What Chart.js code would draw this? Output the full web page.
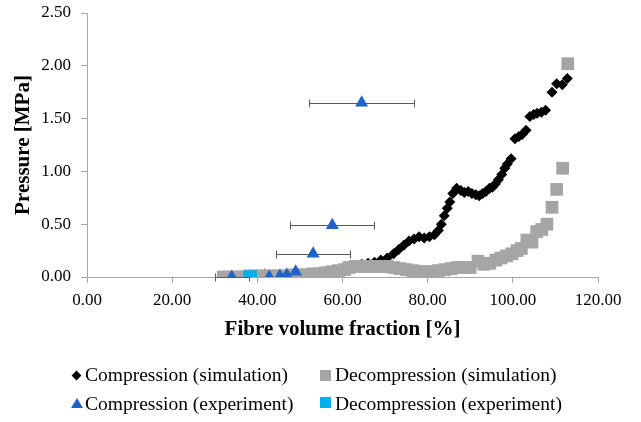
<!DOCTYPE html>
<html>
<head>
<meta charset="utf-8">
<script src="https://cdn.jsdelivr.net/npm/chart.js@4"></script>
<style>
  body { margin: 0; background: #fff; }
  #wrap { position: relative; width: 641px; height: 422px; }
  .lg { position: absolute; font-family: "Liberation Serif", serif; font-size: 19.5px; line-height: 24px; color: #000; white-space: nowrap; }
  .mk { position: absolute; }
</style>
</head>
<body>
<div id="wrap">
  <canvas id="chart" width="641" height="422"></canvas>
  <div class="mk" style="left:73px;top:372px;width:7px;height:7px;background:#000;transform:rotate(45deg);"></div>
  <div class="lg" style="left:85px;top:363px;">Compression (simulation)</div>
  <div class="mk" style="left:320px;top:370px;width:11px;height:11px;background:#a5a5a5;"></div>
  <div class="lg" style="left:335px;top:363px;">Decompression (simulation)</div>
  <div class="mk" style="left:71px;top:398px;width:0;height:0;border-left:6px solid transparent;border-right:6px solid transparent;border-bottom:10px solid #1f62c8;"></div>
  <div class="lg" style="left:85px;top:392px;">Compression (experiment)</div>
  <div class="mk" style="left:320px;top:397px;width:11px;height:11px;background:#00b0f0;"></div>
  <div class="lg" style="left:335px;top:392px;">Decompression (experiment)</div>
</div>
<script>
// Compression (simulation)
var compSimX = [50, 52, 54, 56, 58, 60, 61.5, 63, 64.5, 66, 67.5, 69, 70.5, 72, 73.2, 74.4, 75.6, 76.8, 78, 79.2, 80.4, 81.6, 82.5, 83.2, 83.9, 84.6, 85.2, 85.9, 86.8, 87.8, 88.6, 89.5, 90.4, 91.3, 92.1, 92.9, 93.7, 94.5, 95.2, 95.9, 96.6, 97.4, 98.1, 98.7, 99.6, 100.5, 101.4, 102.2, 103.1, 104.0, 104.9, 105.7, 106.7, 107.7, 109.2, 110.3, 111.6, 112.8];
var compSimY = [0.00, 0.00, 0.01, 0.01, 0.02, 0.04, 0.07, 0.10, 0.12, 0.13, 0.14, 0.16, 0.18, 0.22, 0.26, 0.30, 0.34, 0.36, 0.38, 0.37, 0.38, 0.40, 0.44, 0.50, 0.58, 0.65, 0.71, 0.79, 0.84, 0.82, 0.80, 0.81, 0.79, 0.78, 0.77, 0.79, 0.81, 0.84, 0.85, 0.88, 0.92, 0.97, 1.03, 1.07, 1.12, 1.31, 1.33, 1.35, 1.39, 1.52, 1.54, 1.55, 1.56, 1.58, 1.75, 1.83, 1.82, 1.88];

// Decompression (simulation)
var decompSimX = [32, 33.5, 35, 36.5, 38, 39.5, 41, 42.5, 44, 45.5, 47, 48.5, 50, 51.5, 53, 54.5, 56, 57.5, 59, 60.5, 61.5, 63, 64.5, 66, 67.5, 69, 70.5, 72, 73.5, 75, 76.5, 78, 79.5, 81, 82.5, 84, 85.5, 87, 88.5, 90, 91.8, 93.2, 94.6, 96, 97.2, 98.5, 99.8, 101, 102, 103.3, 104.5, 105.6, 106.8, 108, 109.2, 110.3, 111.7, 112.9];
var decompSimY = [0.00, 0.00, 0.00, 0.00, 0.01, 0.01, 0.01, 0.01, 0.01, 0.01, 0.01, 0.02, 0.02, 0.02, 0.03, 0.03, 0.04, 0.05, 0.06, 0.07, 0.09, 0.10, 0.10, 0.10, 0.10, 0.10, 0.10, 0.09, 0.08, 0.07, 0.06, 0.05, 0.05, 0.05, 0.06, 0.07, 0.08, 0.09, 0.09, 0.09, 0.15, 0.12, 0.13, 0.16, 0.18, 0.20, 0.22, 0.25, 0.27, 0.35, 0.33, 0.43, 0.45, 0.50, 0.66, 0.83, 1.03, 2.02];

// Compression (experiment) with horizontal error (+/-)
var compExpX = [34.0, 42.8, 45.3, 46.9, 49.0, 53.1, 57.6, 64.5];
var compExpY = [0.00, 0.00, 0.01, 0.02, 0.05, 0.22, 0.49, 1.65];
var compExpErr = [4.0, 0, 0, 0, 7.4, 8.7, 9.85, 12.3];

// Decompression (experiment)
var decompExpX = [38.3];
var decompExpY = [0.00];

var xTicks = [0, 20, 40, 60, 80, 100, 120];
var yTicks = [0, 0.5, 1, 1.5, 2, 2.5];

function pts(xs, ys) {
  return xs.map(function(x, i) { return {x: x, y: ys[i]}; });
}

var errorBars = {
  id: 'errorBars',
  beforeDatasetsDraw: function(chart) {
    var ctx = chart.ctx;
    var xs = chart.scales.x, ys = chart.scales.y;
    ctx.save();
    ctx.strokeStyle = '#595959';
    ctx.lineWidth = 1;
    compExpX.forEach(function(x, i) {
      var e = compExpErr[i];
      if (!e) return;
      var py = Math.round(ys.getPixelForValue(compExpY[i])) + 0.5;
      var x1 = Math.round(xs.getPixelForValue(x - e)) + 0.5;
      var x2 = Math.round(xs.getPixelForValue(x + e)) + 0.5;
      ctx.beginPath();
      ctx.moveTo(x1, py); ctx.lineTo(x2, py);
      ctx.moveTo(x1, py - 4); ctx.lineTo(x1, py + 4);
      ctx.moveTo(x2, py - 4); ctx.lineTo(x2, py + 4);
      ctx.stroke();
    });
    ctx.restore();
  }
};

var axisColor = '#a6a6a6';
var tickFont = {family: 'Liberation Serif', size: 17};
var titleFont = {family: 'Liberation Serif', size: 21, weight: 'bold'};

new Chart(document.getElementById('chart'), {
  type: 'scatter',
  data: {
    datasets: [
      {label: 'Compression (experiment)', data: pts(compExpX, compExpY), order: 0,
       pointStyle: 'triangle', pointRadius: 7.5, backgroundColor: '#1f62c8', borderColor: '#1f62c8', borderWidth: 0},
      {label: 'Decompression (experiment)', data: pts(decompExpX, decompExpY), order: 1,
       pointStyle: 'rect', pointRadius: 9.5, backgroundColor: '#00b0f0', borderColor: '#00b0f0', borderWidth: 0},
      {label: 'Decompression (simulation)', data: pts(decompSimX, decompSimY), order: 2,
       pointStyle: 'rect', pointRadius: 9, backgroundColor: '#a5a5a5', borderColor: '#a5a5a5', borderWidth: 0},
      {label: 'Compression (simulation)', data: pts(compSimX, compSimY), order: 3,
       pointStyle: 'rectRot', pointRadius: 5.5, backgroundColor: '#000000', borderColor: '#000000', borderWidth: 0}
    ]
  },
  options: {
    responsive: false,
    animation: false,
    events: [],
    layout: {padding: {left: 0, right: 43, top: 13, bottom: 77}},
    plugins: {legend: {display: false}, tooltip: {enabled: false}},
    scales: {
      x: {
        type: 'linear', min: 0, max: 120,
        afterFit: function(s) { s.height = 68; },
        afterBuildTicks: function(s) { s.ticks = xTicks.map(function(v) { return {value: v}; }); },
        grid: {drawOnChartArea: false, drawTicks: true, tickLength: 6, color: axisColor},
        border: {display: true, color: axisColor},
        ticks: {font: tickFont, color: '#000', padding: 7, maxRotation: 0,
                callback: function(v) { return Number(v).toFixed(2); }},
        title: {display: true, text: 'Fibre volume fraction [%]', font: titleFont, color: '#000', padding: {top: 2, bottom: 3}}
      },
      y: {
        type: 'linear', min: 0, max: 2.5,
        afterFit: function(s) { s.width = 87; s.paddingTop = 0; s.paddingBottom = 0; },
        afterBuildTicks: function(s) { s.ticks = yTicks.map(function(v) { return {value: v}; }); },
        grid: {drawOnChartArea: false, drawTicks: true, tickLength: 6, color: axisColor},
        border: {display: true, color: axisColor},
        ticks: {font: tickFont, color: '#000', padding: 10,
                callback: function(v) { return Number(v).toFixed(2); }},
        title: {display: true, text: 'Pressure [MPa]', font: titleFont, color: '#000', padding: {top: 11, bottom: 0}}
      }
    }
  },
  plugins: [errorBars]
});
</script>
</body>
</html>
